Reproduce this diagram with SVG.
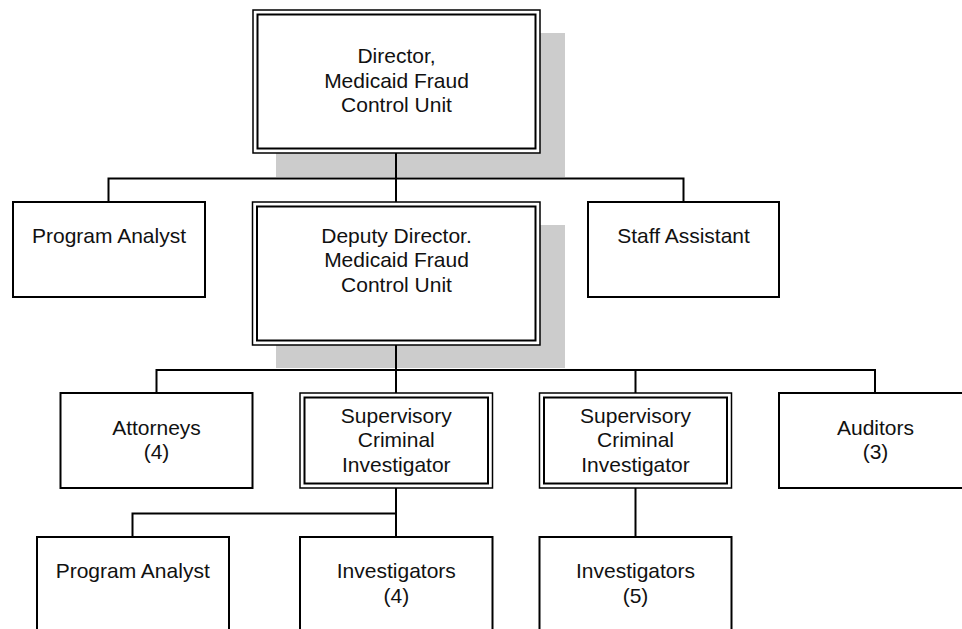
<svg xmlns="http://www.w3.org/2000/svg" width="962" height="629" viewBox="0 0 962 629">
<style>
.box{fill:#fff;stroke:#000;stroke-width:2}
.outer{fill:#fff;stroke:#000;stroke-width:1.5}
.inner{fill:none;stroke:#000;stroke-width:2}
.shadow{fill:#cccccc;stroke:none}
.conn{fill:none;stroke:#000;stroke-width:2}
text{font-family:"Liberation Sans",Arial,sans-serif;font-size:21px;fill:#111;text-anchor:middle}
</style>
<rect width="962" height="629" fill="#fff"/>
<g id="shadows">
<rect class="shadow" x="276" y="33" width="289" height="144"/>
<rect class="shadow" x="276" y="225" width="289" height="143"/>
</g>
<g id="connectors">
<path class="conn" d="M396 153V202M108.5 202V178.5H683.5V202"/>
<path class="conn" d="M396 345V393M156.5 393V370H875V393M635.5 370V393"/>
<path class="conn" d="M396 488V537M132.5 537V513.5H396"/>
<path class="conn" d="M635.5 488V537"/>
</g>
<g id="director">
<rect class="outer" x="253" y="10" width="287" height="143"/>
<rect class="inner" x="257.5" y="14.5" width="278" height="134"/>
<text x="396.5" y="63">Director,</text>
<text x="396.5" y="87.5">Medicaid Fraud</text>
<text x="396.5" y="112">Control Unit</text>
</g>
<g id="program-analyst-top">
<rect class="box" x="13" y="202" width="192" height="95"/>
<text x="109" y="242.5">Program Analyst</text>
</g>
<g id="deputy-director">
<rect class="outer" x="252.5" y="202" width="287.5" height="143"/>
<rect class="inner" x="257" y="206.5" width="278.5" height="134"/>
<text x="396.5" y="242.5">Deputy Director.</text>
<text x="396.5" y="267">Medicaid Fraud</text>
<text x="396.5" y="291.5">Control Unit</text>
</g>
<g id="staff-assistant">
<rect class="box" x="588" y="202" width="191" height="95"/>
<text x="683.5" y="242.5">Staff Assistant</text>
</g>
<g id="attorneys">
<rect class="box" x="60.5" y="393" width="192" height="95"/>
<text x="156.5" y="435">Attorneys</text>
<text x="156.5" y="459">(4)</text>
</g>
<g id="supervisory-1">
<rect class="outer" x="300" y="393" width="192.5" height="95"/>
<rect class="inner" x="304.5" y="397.5" width="183.5" height="86"/>
<text x="396.3" y="422.5">Supervisory</text>
<text x="396.3" y="447.2">Criminal</text>
<text x="396.3" y="472">Investigator</text>
</g>
<g id="supervisory-2">
<rect class="outer" x="539.5" y="393" width="192" height="95"/>
<rect class="inner" x="544" y="397.5" width="183" height="86"/>
<text x="635.5" y="422.5">Supervisory</text>
<text x="635.5" y="447.2">Criminal</text>
<text x="635.5" y="472">Investigator</text>
</g>
<g id="auditors">
<rect class="box" x="779" y="393" width="192" height="95"/>
<text x="875.5" y="435">Auditors</text>
<text x="875.5" y="459">(3)</text>
</g>
<g id="program-analyst-bottom">
<rect class="box" x="37" y="537" width="192" height="96"/>
<text x="132.7" y="578.3">Program Analyst</text>
</g>
<g id="investigators-4">
<rect class="box" x="300" y="537" width="192.5" height="96"/>
<text x="396.3" y="578.3">Investigators</text>
<text x="396.3" y="603">(4)</text>
</g>
<g id="investigators-5">
<rect class="box" x="539.5" y="537" width="192" height="96"/>
<text x="635.5" y="578.3">Investigators</text>
<text x="635.5" y="603">(5)</text>
</g>
</svg>
